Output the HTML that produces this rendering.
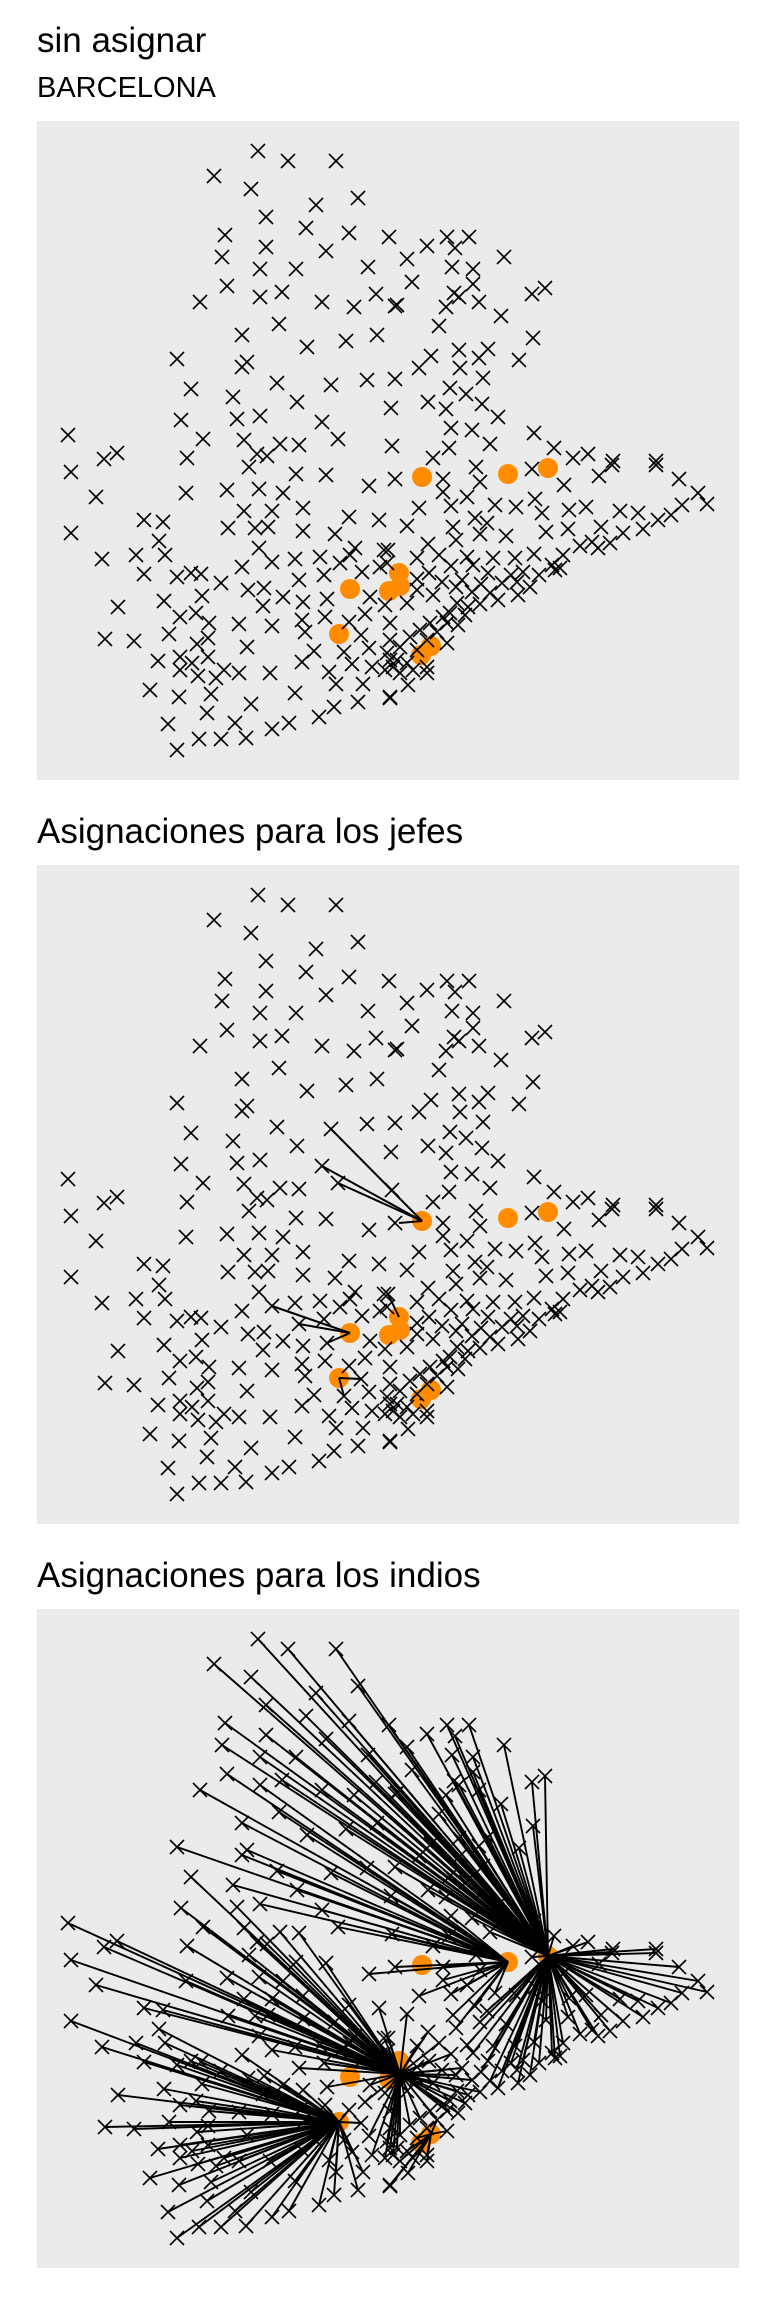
<!DOCTYPE html>
<html><head><meta charset="utf-8">
<style>
html,body{margin:0;padding:0;background:#fff;}
body{width:768px;height:2304px;overflow:hidden;font-family:"Liberation Sans",sans-serif;}
svg{display:block;}
</style></head>
<body>
<svg id="chart" width="768" height="2304" viewBox="0 0 768 2304" xmlns="http://www.w3.org/2000/svg">
<text x="37" y="52" font-size="35" font-family="Liberation Sans, sans-serif" fill="#000">sin asignar</text>
<text x="37" y="97" font-size="29" font-family="Liberation Sans, sans-serif" fill="#000">BARCELONA</text>
<text x="37" y="843" font-size="35" font-family="Liberation Sans, sans-serif" fill="#000">Asignaciones para los jefes</text>
<text x="37" y="1587" font-size="35" font-family="Liberation Sans, sans-serif" fill="#000">Asignaciones para los indios</text>
</svg>
<script>
// point locations (data units, east / south)
const pointsX = [221,251,299,177,214,279,321,229,269,312,352,188,229,289,185,223,259,331,190,163,223,245,285,317,339,358,205,242,270,309,340,140,205,210,240,294,330,358,154,196,260,354,144,200,223,285,31,166,207,243,262,301,355,80,67,150,220,230,
390,410,418,432,370,467,415,436,375,436,417,422,495,508,360,409,442,464,402,496,394,422,382,442,451,423,482,446,413,429,391,409,445,461,414,435,497,412,453,517,536,551,576,619,396,
34,212,259,289,332,358,59,149,190,222,246,207,235,266,312,342,34,107,126,191,218,231,266,298,122,65,99,128,222,235,258,283,318,313,347,107,140,154,164,184,205,303,325,343,262,287,211,227,127,165,246,266,290,333,81,143,159,226,172,202,235,265,288,328,353,68,97,132,171,160,268,312,324,210,277,307,332,121,143,155,171,143,187,202,233,265,292,315,335,353,161,179,299,326,113,142,174,258,353,297,321,214,170,131,198,252,282,235,162,184,209,140,
439,495,575,619,406,443,562,527,642,661,670,645,406,430,382,414,458,479,498,505,532,549,583,601,621,634,370,416,438,450,443,469,509,531,564,586,606,419,543,561,573,555,391,351,380,402,430,456,478,497,526,350,414,436,515,523,392,451,474,486,502,518,380,405,425,444,465,480,493,380,419,396,435,453,481,461,370,348,420,443,413,406,428,431,393,410,421,383,400,373,390,410,353,363,380,350,360,370,390,356,363,376,390,348,371,353];
const pointsY = [30,40,40,55,68,84,77,96,107,112,116,114,126,130,136,148,148,146,165,181,176,171,181,186,173,185,214,203,226,220,214,238,246,241,262,264,259,258,268,276,281,287,299,298,295,301,314,318,319,323,324,318,325,332,338,337,333,335,
125,116,127,116,138,136,146,148,161,163,172,176,173,167,184,186,181,195,205,217,235,229,247,237,228,247,239,257,267,273,281,288,283,296,307,309,312,327,323,327,337,333,340,340,337,
351,346,353,354,365,358,376,372,369,368,372,390,390,387,396,399,412,399,401,407,407,406,410,413,420,438,434,434,427,441,438,436,427,434,429,453,456,452,453,462,446,442,451,446,459,454,469,467,480,475,476,481,478,476,486,496,492,485,502,503,505,499,496,493,502,518,520,513,517,523,511,501,514,526,530,531,527,540,536,542,536,549,549,552,552,541,551,543,546,539,555,557,563,563,569,576,573,572,576,586,581,583,592,603,602,602,596,608,618,618,617,629,
346,348,344,344,358,361,355,364,358,372,383,384,371,376,387,385,384,386,378,392,389,386,390,392,399,394,405,406,397,402,413,415,411,408,406,412,408,419,425,427,422,421,423,429,437,434,436,437,437,433,434,442,445,444,444,447,452,452,454,451,454,449,458,461,459,463,462,461,466,469,466,474,471,472,474,479,482,484,482,483,492,496,494,486,502,502,504,509,511,516,519,522,519,526,529,532,539,542,546,546,552,549,552,549,564,577];
// orange centres
const centersX = [385,471,511,362,363,352,313,302,394,384];
const centersY = [356,353,347,452,465,470,468,513,525,534];
// jefes assignments: point coords + centre index
const jefeX = [294,285,301,362,235,262,290,351,324,307,383];
const jefeY = [264,301,318,358,441,459,478,429,514,531,535];
const jefeCenter = [0,0,0,0,6,6,6,3,7,7,9];
// centres used for indios
const hubCenters = [2,1,4,7,8];
const hubWeight = [165,135,100,60,60];

const NS='http://www.w3.org/2000/svg';
const svg=document.getElementById('chart');
const panels=[{top:121,name:'panel-sin-asignar'},{top:865,name:'panel-jefes'},{top:1609,name:'panel-indios'}];
const PL=37,PW=702,PH=659;
function sx(v){return PL+v/702*PW;}
function mk(tag,attrs,parent){const e=document.createElementNS(NS,tag);for(const k in attrs)e.setAttribute(k,attrs[k]);parent.appendChild(e);return e;}
function nearestHub(x,y){let best=0,bc=1e9;for(let h=0;h<hubCenters.length;h++){const c=hubCenters[h];const d=Math.hypot(x-centersX[c],y-centersY[c])-hubWeight[h];if(d<bc){bc=d;best=c;}}return best;}

panels.forEach((p,pi)=>{
  const sy=v=>p.top+v/659*PH;
  const g=mk('g',{},svg);
  
  
  const bg=mk('rect',{x:PL,y:p.top,width:PW,height:PH,fill:'#ebebeb'},g);
  
  
  for(let i=0;i<centersX.length;i++){
    const c=mk('circle',{cx:sx(centersX[i]),cy:sy(centersY[i]),r:10,fill:'#ff8c00'},g);
    
    
  }
  if(pi===1){
    for(let i=0;i<jefeX.length;i++){
      const c=jefeCenter[i];
      const l=mk('line',{x1:sx(jefeX[i]),y1:sy(jefeY[i]),x2:sx(centersX[c]),y2:sy(centersY[c]),stroke:'#000','stroke-width':2},g);
      
      
    }
  }
  if(pi===2){
    for(let i=0;i<pointsX.length;i++){
      const c=nearestHub(pointsX[i],pointsY[i]);
      const l=mk('line',{x1:sx(pointsX[i]),y1:sy(pointsY[i]),x2:sx(centersX[c]),y2:sy(centersY[c]),stroke:'#000','stroke-width':1.9},g);
      
      
    }
  }
  for(let i=0;i<pointsX.length;i++){
    const x=sx(pointsX[i]),y=sy(pointsY[i]),s=7;
    const m=mk('path',{d:`M${x-s},${y-s}L${x+s},${y+s}M${x-s},${y+s}L${x+s},${y-s}`,stroke:'#000','stroke-width':1.6,fill:'none'},g);
    
    
  }
});
</script>
</body></html>
